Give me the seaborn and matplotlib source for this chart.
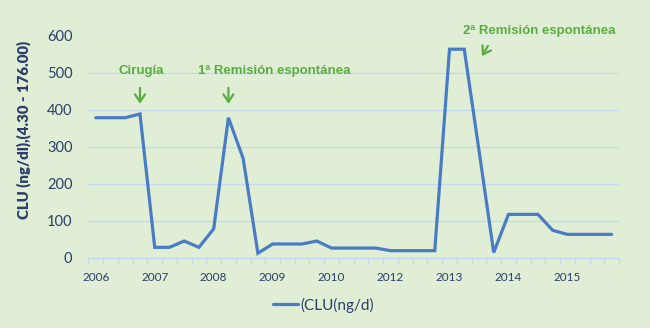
import matplotlib
matplotlib.use("Agg")
import matplotlib.pyplot as plt
import seaborn as sns
import numpy as np
import pandas as pd

# Quarterly urinary free cortisol measurements
clu_values = [378, 378, 378, 388, 28, 28, 45, 28, 78, 378, 268, 12,
              37, 37, 37, 45, 26, 26, 26, 26, 19, 19, 19, 19,
              563, 563, 290, 14, 117, 117, 117, 74, 63, 63, 63, 63]
year_labels = ["2006", "2007", "2008", "2009", "2010", "2012", "2013", "2014", "2015"]
year_label_every = 4
series_name = "(CLU(ng/d)"
y_label = "CLU (ng/dl),(4.30 - 176.00)"
y_ticks = [0, 100, 200, 300, 400, 500, 600]

# clinical events marked on the chart
event_texts = ["Cirugía", "1ª Remisión espontánea", "2ª Remisión espontánea"]

BG = "#dfeed5"
GRID = "#c5daee"
LINE = "#4a7cc6"
NAVY = "#2c3d6a"
GREEN = "#5aac40"

sns.set_theme(style="white")
plt.rcParams["font.family"] = ["Lato", "DejaVu Sans"]

df = pd.DataFrame({"idx": np.arange(len(clu_values)), "clu": clu_values, "serie": series_name})

fig = plt.figure(figsize=(6.5, 3.28), dpi=100, facecolor=BG)
ax = fig.add_axes([88.4 / 650, 1 - 257.7 / 328, (619 - 88.4) / 650, (257.7 - 35.5) / 328])
ax.set_facecolor(BG)

sns.lineplot(data=df, x="idx", y="clu", hue="serie", palette=[LINE], linewidth=2.3,
             ax=ax, legend=True, solid_joinstyle="miter")

n = len(clu_values)
ax.set_xlim(-0.5, n - 0.5)
ax.set_ylim(0, 600)
ax.set_yticks(y_ticks)
ax.set_yticklabels([str(t) for t in y_ticks], fontsize=10.5, color=NAVY)
ax.tick_params(axis="y", length=0, pad=11.5)

major = list(range(0, year_label_every * len(year_labels), year_label_every))
ax.set_xticks(major)
ax.set_xticklabels(year_labels, fontsize=8.5, color=NAVY)
ax.set_xticks(np.arange(-0.5, n, 1), minor=True)
ax.tick_params(axis="x", which="major", length=0, pad=10)
ax.tick_params(axis="x", which="minor", length=4.5, width=1, color=GRID, bottom=True)

ax.grid(axis="y", color=GRID, linewidth=1)
ax.grid(axis="x", visible=False)
for side in ["top", "right", "left"]:
    ax.spines[side].set_visible(False)
ax.spines["bottom"].set_color(GRID)
ax.spines["bottom"].set_linewidth(1)
ax.set_xlabel("")
ax.set_ylabel("")

fig.text(24 / 650, 1 - 129.5 / 328, y_label, rotation=90, ha="center", va="center",
         fontsize=10.8, fontweight="heavy", color=NAVY)

# event labels and arrows (x in category units, y in data units)
ann_font = dict(family=["Liberation Sans", "DejaVu Sans"], fontsize=9.5, fontweight="bold", color=GREEN)
arrow_style = dict(arrowstyle="->,head_length=0.45,head_width=0.3", color=GREEN, lw=1.6)

ax.text(3.07, 495, event_texts[0], ha="center", va="baseline", clip_on=False, **ann_font)
ax.annotate("", xy=(3.0, 408), xytext=(3.0, 466), arrowprops=arrow_style, annotation_clip=False)

ax.text(12.12, 495, event_texts[1], ha="center", va="baseline", clip_on=False, **ann_font)
ax.annotate("", xy=(9.0, 408), xytext=(9.0, 466), arrowprops=arrow_style, annotation_clip=False)

ax.text(30.1, 603, event_texts[2], ha="center", va="baseline", clip_on=False, **ann_font)
ax.annotate("", xy=(26.1, 538), xytext=(26.7, 578), arrowprops=arrow_style, annotation_clip=False)

leg = ax.legend(loc="center", bbox_to_anchor=(0.498, 0.07), bbox_transform=fig.transFigure,
                frameon=False, fontsize=11, handlelength=1.6, handletextpad=0.2)
for txt in leg.get_texts():
    txt.set_color(NAVY)
for h in leg.get_lines():
    h.set_linewidth(2.3)

fig.savefig("out.png", dpi=100, facecolor=BG)
